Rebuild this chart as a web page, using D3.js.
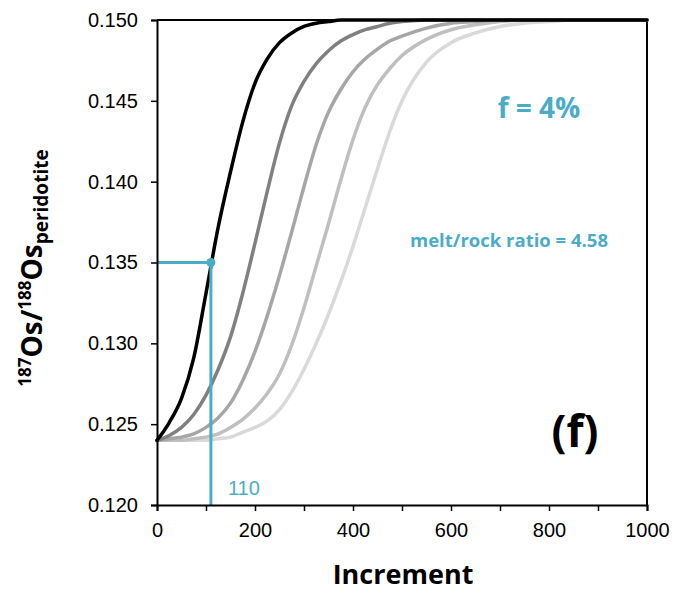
<!DOCTYPE html>
<html>
<head>
<meta charset="utf-8">
<script src="https://cdn.jsdelivr.net/npm/d3@7"></script>
<style>
  body { margin: 0; background: #fff; }
  svg { display: block; }
</style>
</head>
<body>
<svg id="chart" width="673" height="592"></svg>
<script>
// ---- data ----
const increments = [0,25,50,75,100,125,150,175,200,225,250,275,300,325,350,375,400,425,450,475,500,550,600,650,700,750,800,850,900,950,1000];
const curve1 = [0.1240,0.1251,0.1266,0.1291,0.1331,0.1372,0.1406,0.1437,0.1461,0.1476,0.1486,0.1492,0.1496,0.1498,0.1499,0.1500,0.1500,0.1500,0.1500,0.1500,0.1500,0.1500,0.1500,0.1500,0.1500,0.1500,0.1500,0.1500,0.1500,0.1500,0.1500];
const curve2 = [0.1240,0.1243,0.1248,0.1256,0.1268,0.1284,0.1304,0.1331,0.1362,0.1394,0.1424,0.1447,0.1462,0.1473,0.1481,0.1487,0.1491,0.1494,0.1496,0.1498,0.1499,0.1500,0.1500,0.1500,0.1500,0.1500,0.1500,0.1500,0.1500,0.1500,0.1500];
const curve3 = [0.1240,0.1241,0.1242,0.1244,0.1248,0.1254,0.1263,0.1277,0.1295,0.1317,0.1342,0.1369,0.1397,0.1423,0.1443,0.1457,0.1468,0.1476,0.1482,0.1487,0.1490,0.1495,0.1498,0.1499,0.1500,0.1500,0.1500,0.1500,0.1500,0.1500,0.1500];
const curve4 = [0.1240,0.1240,0.1240,0.1241,0.1242,0.1244,0.1248,0.1253,0.1260,0.1269,0.1281,0.1299,0.1322,0.1348,0.1374,0.1401,0.1426,0.1446,0.1460,0.1470,0.1478,0.1488,0.1494,0.1497,0.1499,0.1500,0.1500,0.1500,0.1500,0.1500,0.1500];
const curve5 = [0.1240,0.1240,0.1240,0.1240,0.1240,0.1241,0.1242,0.1245,0.1248,0.1252,0.1259,0.1270,0.1284,0.1300,0.1318,0.1338,0.1360,0.1384,0.1408,0.1431,0.1450,0.1474,0.1486,0.1492,0.1496,0.1498,0.1499,0.1500,0.1500,0.1500,0.1500];
const seriesList = [curve1, curve2, curve3, curve4, curve5];
const seriesColors = ["#000000", "#808080", "#a6a6a6", "#bfbfbf", "#d9d9d9"];

const xTicks = [0,100,200,300,400,500,600,700,800,900,1000];
const xTickLabels = ["0","","200","","400","","600","","800","","1000"];
const yTicks = [0.120,0.125,0.130,0.135,0.140,0.145,0.150];

const markerX = [110];
const markerY = [0.135];
const markerLabel = "110";
const labelF = "f = 4%";
const labelRatio = "melt/rock ratio = 4.58";
const panelLabel = "(f)";
const xTitle = "Increment";

// ---- layout ----
const svg = d3.select("#chart");
const margin = {left: 157, top: 20, right: 26, bottom: 87};
const W = 673, H = 592;
const iw = W - margin.left - margin.right; // 490
const ih = H - margin.top - margin.bottom; // 485
const accent = "#4bacc6";

const x = d3.scaleLinear().domain([0, 1000]).range([0, iw]);
const y = d3.scaleLinear().domain([0.120, 0.150]).range([ih, 0]);

const g = svg.append("g").attr("transform", `translate(${margin.left},${margin.top})`);

// box (top & right)
g.append("line").attr("x1", 0).attr("x2", iw).attr("y1", 0).attr("y2", 0)
  .attr("stroke", "#000").attr("stroke-width", 2);
g.append("line").attr("x1", iw).attr("x2", iw).attr("y1", 0).attr("y2", ih)
  .attr("stroke", "#000").attr("stroke-width", 2);

// curves
const line = d3.line()
  .x((d, i) => x(increments[i]))
  .y(d => y(d))
  .curve(d3.curveMonotoneX);

for (let k = seriesList.length - 1; k >= 0; k--) {
  g.append("path")
    .datum(seriesList[k])
    .attr("d", line)
    .attr("fill", "none")
    .attr("stroke", seriesColors[k])
    .attr("stroke-width", 3.5)
    .attr("stroke-linejoin", "round")
    .attr("stroke-linecap", "round");
}

// marker lines
g.append("line")
  .attr("x1", x(0)).attr("x2", x(markerX[0]))
  .attr("y1", y(markerY[0])).attr("y2", y(markerY[0]))
  .attr("stroke", accent).attr("stroke-width", 3);
g.append("line")
  .attr("x1", x(markerX[0])).attr("x2", x(markerX[0]))
  .attr("y1", y(markerY[0])).attr("y2", y(0.120))
  .attr("stroke", accent).attr("stroke-width", 3);
g.append("circle")
  .attr("cx", x(markerX[0])).attr("cy", y(markerY[0])).attr("r", 4.5)
  .attr("fill", accent);
g.append("text")
  .attr("x", x(markerX[0]) + 17).attr("y", ih - 10)
  .attr("font-family", "'Liberation Sans', Arial, sans-serif")
  .attr("font-size", 20).attr("fill", accent)
  .text(markerLabel);

// axes
const xAxis = d3.axisBottom(x).tickValues(xTicks)
  .tickFormat((d, i) => xTickLabels[i]).tickSize(6).tickPadding(12);
const yAxis = d3.axisLeft(y).tickValues(yTicks)
  .tickFormat(d3.format(".3f")).tickSize(6).tickPadding(13);

const gx = g.append("g").attr("transform", `translate(0,${ih})`).call(xAxis);
const gy = g.append("g").call(yAxis);
[gx, gy].forEach(a => {
  a.select(".domain").attr("stroke", "#000").attr("stroke-width", 2);
  a.selectAll(".tick line").attr("stroke", "#000").attr("stroke-width", 1.5);
  a.selectAll(".tick text")
    .attr("font-family", "'Liberation Sans', Arial, sans-serif")
    .attr("font-size", 20).attr("fill", "#000");
});

// annotations
const bold = "'Open Sans', 'Noto Sans', sans-serif";
g.append("text")
  .attr("x", 539 - margin.left).attr("y", 118 - margin.top)
  .attr("text-anchor", "middle")
  .attr("font-family", bold).attr("font-weight", 700)
  .attr("font-size", 28).attr("fill", accent)
  .text(labelF);
g.append("text")
  .attr("x", 509 - margin.left).attr("y", 247 - margin.top)
  .attr("text-anchor", "middle")
  .attr("font-family", bold).attr("font-weight", 700)
  .attr("font-size", 18.5).attr("fill", accent)
  .text(labelRatio);
g.append("text")
  .attr("x", 575 - margin.left).attr("y", 447 - margin.top)
  .attr("text-anchor", "middle")
  .attr("font-family", bold).attr("font-weight", 700)
  .attr("font-size", 44).attr("fill", "#000")
  .text(panelLabel);

// axis titles
svg.append("text")
  .attr("x", 403).attr("y", 584)
  .attr("text-anchor", "middle")
  .attr("font-family", bold).attr("font-weight", 700)
  .attr("font-size", 27).attr("fill", "#000")
  .text(xTitle);

const yt = svg.append("text")
  .attr("transform", "translate(42,268) rotate(-90)")
  .attr("text-anchor", "middle")
  .attr("font-family", bold).attr("font-weight", 700)
  .attr("font-size", 28).attr("fill", "#000");
yt.append("tspan").attr("font-size", 17).attr("dy", -11).text("187");
yt.append("tspan").attr("dy", 11).text("Os/");
yt.append("tspan").attr("font-size", 17).attr("dy", -11).text("188");
yt.append("tspan").attr("dy", 11).text("Os");
yt.append("tspan").attr("font-size", 19).attr("dy", 6).text("peridotite");
</script>
</body>
</html>
